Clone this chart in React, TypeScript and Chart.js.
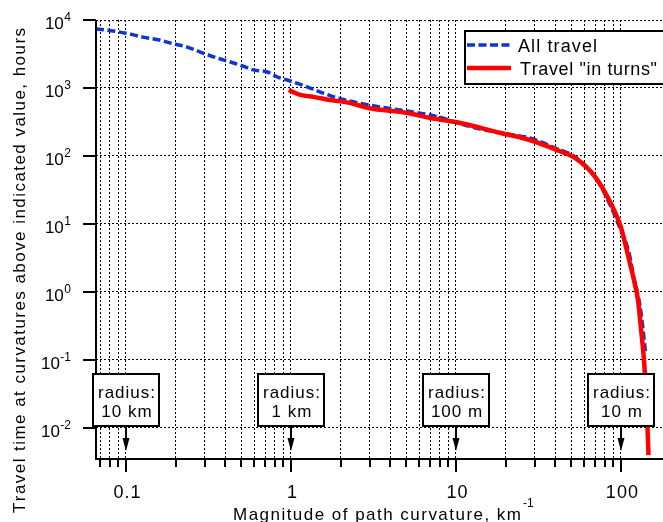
import React, { useEffect, useRef } from 'react';
import { Chart, registerables } from 'chart.js';

Chart.register(...registerables);

// ---------- data ----------
const allTravelX = [0.0658, 0.0835, 0.1, 0.127, 0.16, 0.193, 0.235, 0.282, 0.357, 0.43, 0.49, 0.59, 0.72, 0.83, 0.95, 1.2, 1.55, 1.9, 3.0, 4.6, 7, 8.3, 11, 18.7, 28, 40, 53, 70, 87, 100, 112, 120, 128, 133, 141];
const allTravelY = [7400, 6900, 6400, 5600, 5080, 4470, 4000, 3380, 2760, 2410, 2180, 1850, 1720, 1450, 1310, 1080, 850, 720, 560, 475, 400, 362, 290, 218, 184, 131, 96, 49, 18, 8, 3.8, 1.6, 0.82, 0.46, 0.13];

const turnsX = [0.97, 1.14, 1.37, 1.73, 2.3, 2.95, 5.1, 7, 10, 18.7, 28, 40, 53, 70, 87, 100, 112, 120, 127, 132, 138, 142, 145, 147];
const turnsY = [935, 790, 740, 667, 600, 508, 430, 362, 316, 218, 172, 125, 93, 49, 20, 9, 3, 1.5, 0.76, 0.31, 0.1, 0.033, 0.01, 0.004];

const xMin = 0.0658;
const xMax = 180;
const yMin = 0.0035;
const yMax = 10000;

const xTickValues = [0.1, 1, 10, 100];
const xTickLabels = ['0.1', '1', '10', '100'];
const yExponents = [-2, -1, 0, 1, 2, 3, 4];
const yTickLabelBase = '10';

const radiusCurvatures = [0.1, 1, 10, 100];
const radiusLine1 = ['radius:', 'radius:', 'radius:', 'radius:'];
const radiusLine2 = ['10 km', '1 km', '100 m', '10 m'];

const legendLabels = ['All travel', 'Travel "in turns"'];
const xTitle = 'Magnitude of path curvature, km';
const xTitleSup = '-1';
const yTitle = 'Travel time at curvatures above indicated value, hours';

const BLUE = '#0b36d4';
const RED = '#ff0000';
const FONT = '"Liberation Sans", Arial, sans-serif';

// grid positions: 1..9 x 10^k inside the x range
const xGridValues: number[] = [];
for (let k = -2; k <= 2; k++) {
  for (let d = 1; d <= 9; d++) {
    const v = parseFloat((d * Math.pow(10, k)).toPrecision(6));
    if (v >= xMin && v <= xMax) xGridValues.push(v);
  }
}
const yGridValues = yExponents.map((e) => Math.pow(10, e));

function isMajor(v: number) {
  const l = Math.log10(v);
  return Math.abs(l - Math.round(l)) < 1e-9;
}

// draw text char by char with a given extra spacing
function spacedWidth(ctx: any, text: string, spacing: number) {
  const chars = Array.from(text);
  const ws = chars.map((c) => ctx.measureText(c).width);
  return ws.reduce((a, b) => a + b, 0) + spacing * (chars.length - 1);
}
function drawSpaced(ctx: any, text: string, xLeft: number, y: number, spacing: number) {
  ctx.textAlign = 'left';
  let x = xLeft;
  let end = xLeft;
  Array.from(text).forEach((c) => {
    ctx.fillText(c, x, y);
    end = x + ctx.measureText(c).width;
    x = end + spacing;
  });
  return end;
}
function fitText(ctx: any, text: string, xLeft: number, y: number, width: number, font: string) {
  ctx.font = font;
  const natural = spacedWidth(ctx, text, 0);
  const s = (width - natural) / Math.max(1, Array.from(text).length - 1);
  return drawSpaced(ctx, text, xLeft, y, s);
}
function centerSpaced(ctx: any, text: string, cx: number, y: number, spacing: number) {
  const w = spacedWidth(ctx, text, spacing);
  drawSpaced(ctx, text, cx - w / 2, y, spacing);
}

const overlay = {
  id: 'overlay',
  afterDatasetsDraw(chart: any) {
    const ctx = chart.ctx;
    const xs = chart.scales.x;
    const ys = chart.scales.y;
    const { left, right, top, bottom } = chart.chartArea;
    ctx.save();
    ctx.strokeStyle = '#000';
    ctx.fillStyle = '#000';
    ctx.setLineDash([]);

    // axes
    ctx.lineWidth = 2;
    ctx.beginPath();
    ctx.moveTo(left, top);
    ctx.lineTo(left, bottom + 1);
    ctx.moveTo(left - 1, bottom);
    ctx.lineTo(right + 2, bottom);
    ctx.stroke();

    // y ticks + labels
    ctx.textBaseline = 'alphabetic';
    yExponents.forEach((e) => {
      const py = Math.round(ys.getPixelForValue(Math.pow(10, e)));
      ctx.beginPath();
      ctx.moveTo(left - 13, py);
      ctx.lineTo(left, py);
      ctx.stroke();
      const exp = String(e);
      ctx.font = '12px ' + FONT;
      ctx.textAlign = 'right';
      const expW = ctx.measureText(exp).width;
      ctx.fillText(exp, 71, py + 0.5);
      ctx.font = '17px ' + FONT;
      ctx.textAlign = 'right';
      ctx.fillText(yTickLabelBase, 71 - expW - 0.5, py + 9);
    });

    // x ticks
    xGridValues.forEach((v) => {
      const px = Math.round(xs.getPixelForValue(v));
      const len = isMajor(v) ? 13 : 8;
      ctx.beginPath();
      ctx.moveTo(px, bottom);
      ctx.lineTo(px, bottom + len);
      ctx.stroke();
    });
    ctx.font = '18px ' + FONT;
    xTickValues.forEach((v, i) => {
      const px = xs.getPixelForValue(v);
      centerSpaced(ctx, xTickLabels[i], px + 1, 498, 1);
    });

    // x title
    const titleEnd = fitText(ctx, xTitle, 233, 520, 288, '17px ' + FONT);
    ctx.font = '12px ' + FONT;
    ctx.textAlign = 'left';
    ctx.fillText(xTitleSup, titleEnd + 2, 507);

    // y title
    ctx.save();
    ctx.translate(24.5, 270.5);
    ctx.rotate(-Math.PI / 2);
    fitText(ctx, yTitle, -242.5, 0, 485, '17px ' + FONT);
    ctx.restore();

    // radius annotation boxes
    const p001 = ys.getPixelForValue(0.01);
    radiusCurvatures.forEach((c, i) => {
      const px = Math.round(xs.getPixelForValue(c));
      const bBottom = Math.round(p001) - 2;
      const bTop = bBottom - 52;
      ctx.fillStyle = '#fff';
      ctx.fillRect(px - 33, bTop, 66, bBottom - bTop);
      ctx.lineWidth = 2;
      ctx.strokeStyle = '#000';
      ctx.strokeRect(px - 33, bTop, 66, bBottom - bTop);
      ctx.fillStyle = '#000';
      ctx.font = '17px ' + FONT;
      centerSpaced(ctx, radiusLine1[i], px + 0.5, bTop + 24, 1);
      centerSpaced(ctx, radiusLine2[i], px + 0.5, bTop + 43, 1);
      // arrow
      ctx.beginPath();
      ctx.moveTo(px, bBottom + 1);
      ctx.lineTo(px, bBottom + 16);
      ctx.stroke();
      ctx.beginPath();
      ctx.moveTo(px - 3.5, bBottom + 12);
      ctx.lineTo(px + 3.5, bBottom + 12);
      ctx.lineTo(px, bBottom + 25);
      ctx.closePath();
      ctx.fill();
    });

    // legend
    ctx.fillStyle = '#fff';
    ctx.fillRect(465, 31, 220, 53);
    ctx.lineWidth = 2;
    ctx.strokeStyle = '#000';
    ctx.strokeRect(465, 31, 220, 53);
    ctx.lineWidth = 3.5;
    ctx.strokeStyle = BLUE;
    ctx.setLineDash([8, 3.5]);
    ctx.beginPath();
    ctx.moveTo(467, 45);
    ctx.lineTo(511, 45);
    ctx.stroke();
    ctx.setLineDash([]);
    ctx.lineWidth = 4.5;
    ctx.strokeStyle = RED;
    ctx.beginPath();
    ctx.moveTo(467, 68);
    ctx.lineTo(511, 68);
    ctx.stroke();
    ctx.fillStyle = '#000';
    fitText(ctx, legendLabels[0], 518, 52, 79, '18px ' + FONT);
    fitText(ctx, legendLabels[1], 520, 75, 137, '18px ' + FONT);

    ctx.restore();
  },
};

export default function App() {
  const ref = useRef<HTMLCanvasElement>(null);
  useEffect(() => {
    const chart = new Chart(ref.current as HTMLCanvasElement, {
      type: 'line',
      data: {
        datasets: [
          {
            label: legendLabels[0],
            data: allTravelX.map((x, i) => ({ x, y: allTravelY[i] })),
            borderColor: BLUE,
            borderWidth: 3.5,
            borderDash: [8, 3.5],
            pointRadius: 0,
            fill: false,
            cubicInterpolationMode: 'monotone',
            order: 1,
          },
          {
            label: legendLabels[1],
            data: turnsX.map((x, i) => ({ x, y: turnsY[i] })),
            borderColor: RED,
            borderWidth: 4.5,
            pointRadius: 0,
            fill: false,
            cubicInterpolationMode: 'monotone',
            order: 0,
          },
        ],
      },
      options: {
        animation: false,
        responsive: false,
        devicePixelRatio: 1,
        events: [],
        layout: { padding: { left: 96, top: 20, right: 0, bottom: 63 } },
        plugins: { legend: { display: false }, tooltip: { enabled: false } },
        scales: {
          x: {
            type: 'logarithmic',
            min: xMin,
            max: xMax,
            afterBuildTicks: (s: any) => {
              s.ticks = xGridValues.map((v) => ({ value: v, major: isMajor(v) }));
            },
            ticks: { display: false },
            grid: { color: '#000', lineWidth: 1, drawTicks: false },
            border: { display: false, dash: [2, 2] },
          },
          y: {
            type: 'logarithmic',
            min: yMin,
            max: yMax,
            afterBuildTicks: (s: any) => {
              s.ticks = yGridValues.map((v) => ({ value: v, major: true }));
            },
            ticks: { display: false },
            grid: { color: '#000', lineWidth: 1, drawTicks: false },
            border: { display: false, dash: [2, 2] },
          },
        },
      } as any,
      plugins: [overlay],
    } as any);
    return () => chart.destroy();
  }, []);
  return (
    <div style={{ position: 'fixed', left: 0, top: 0, width: 663, height: 522, background: '#fff' }}>
      <canvas ref={ref} width={663} height={522} style={{ display: 'block', width: 663, height: 522 }} />
    </div>
  );
}
